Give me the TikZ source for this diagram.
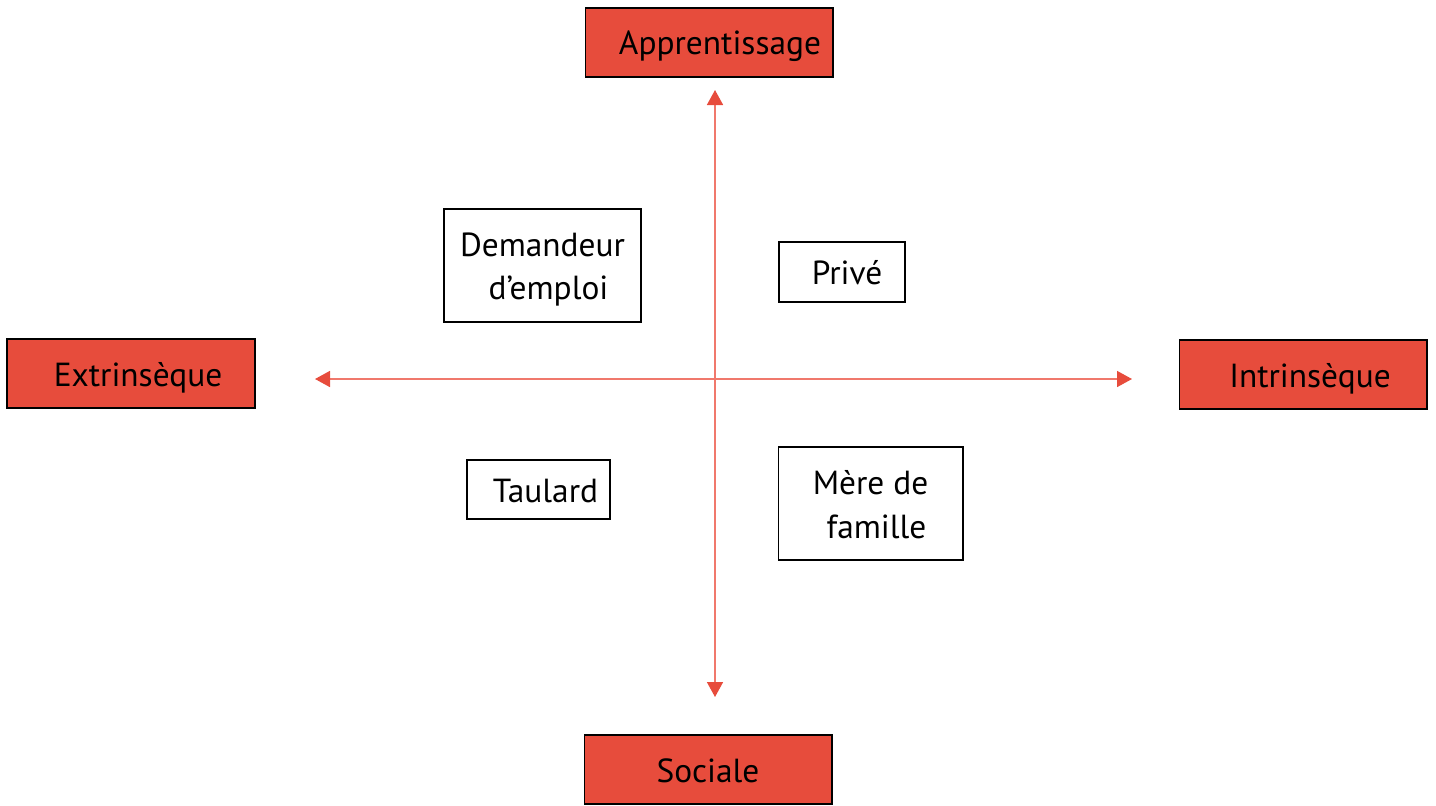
\documentclass[tikz,border=0pt]{standalone}
\usepackage{fontspec}
\setmainfont{PT Sans}
\usetikzlibrary{arrows.meta}
\definecolor{boxred}{RGB}{231,76,60}
\definecolor{axisred}{RGB}{240,120,108}

\begin{document}
\begin{tikzpicture}[x=0.02cm,y=-0.02cm,font=\fontsize{19}{25}\selectfont]
    \tikzstyle{every node}=[inner sep=0pt]
    \tikzstyle{pole}=[rectangle,draw=black,fill=boxred,line width=0.6pt,minimum width=4.96cm,minimum height=1.38cm,text height=0.5cm,text depth=0cm]
    \tikzstyle{profile}=[rectangle,draw=black,fill=white,line width=0.6pt,align=center,text depth=0cm]

    \tikzstyle{axis}=[draw=axisred,line width=0.9pt,{Triangle[width=0.32cm,length=0.3cm,color=boxred]}-{Triangle[width=0.32cm,length=0.3cm,color=boxred]}]

    \useasboundingbox (0,0) rectangle (1436,805);

    % Draw the four poles
    \node[pole] (app) at (709,42.5) {\hspace*{0.44cm}Apprentissage};
    \node[pole] (ext) at (131,373.5) {\hspace*{0.28cm}Extrinsèque};
    \node[pole] (int) at (1303,374.5) {\hspace*{0.28cm}Intrinsèque};
    \node[pole] (soc) at (708,769.5) {Sociale};

    % Axis ends
    \coordinate (top) at (715,90);
    \coordinate (bottom) at (715,697);
    \coordinate (left) at (315,379);
    \coordinate (right) at (1132,379);

    % Draw the axes
    \path[axis] (top) -- (bottom);
    \path[axis] (left) -- (right);

    % Draw the profiles in each quadrant
    \node[profile,text height=1.38cm,minimum width=3.94cm,minimum height=2.26cm] (dem) at (542.5,265.5) {Demandeur\\ \hspace*{0.24cm}d’emploi};
    \node[profile,text height=0.5cm,minimum width=2.52cm,minimum height=1.2cm] (priv) at (842,272) {\hspace*{0.2cm}Privé};
    \node[profile,text height=0.5cm,minimum width=2.86cm,minimum height=1.18cm] (taul) at (538.5,489.5) {\hspace*{0.28cm}Taulard};
    \node[profile,text height=1.38cm,minimum width=3.7cm,minimum height=2.26cm] (mere) at (870.5,503.5) {Mère de\\ \hspace*{0.24cm}famille};
\end{tikzpicture}
\end{document}
